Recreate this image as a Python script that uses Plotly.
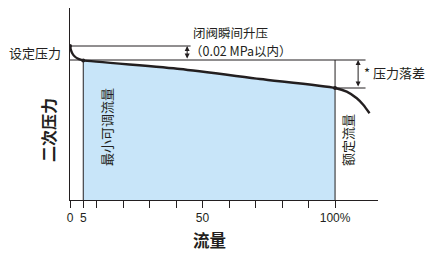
import plotly.graph_objects as go

# ---- data (flow %, secondary pressure in arbitrary units) ----
curve_flow = [0, 0.3, 0.9, 1.8, 2.9, 4.0, 5, 41.5, 71.7, 100, 104.4, 108.2, 110.7, 113]
curve_pres = [154, 150.5, 146.5, 143.5, 141.5, 140.3, 139.6, 131, 121, 112, 108.3, 101.7, 95, 86.7]
fill_flow = [5, 41.5, 71.7, 100]
fill_pres = [139.6, 131, 121, 112]
set_pressure = 154
ref_pressure = 140
min_flow = 5
rated_flow = 100
surge_x = 44.2
drop_x = 108.7
tick_vals = [0, 5, 10, 20, 30, 40, 50, 60, 70, 80, 90, 100]
tick_text = ["0", "5", "", "", "", "", "50", "", "", "", "", "100%"]
x_range = [0, 116.2]
y_range = [0, 192]

CJK = "Noto Sans CJK SC"
INK = "#231f20"

fig = go.Figure()

# light blue usable-flow area
fig.add_trace(go.Scatter(
    x=[fill_flow[0]] + fill_flow + [fill_flow[-1]],
    y=[0] + fill_pres + [0],
    fill="toself", fillcolor="#c8e5f9", mode="none",
    hoverinfo="skip", showlegend=False))

# pressure curve
fig.add_trace(go.Scatter(
    x=curve_flow, y=curve_pres, mode="lines",
    line=dict(color=INK, width=2.4, shape="spline", smoothing=0.6),
    showlegend=False, hoverinfo="skip"))

# small dots
fig.add_trace(go.Scatter(
    x=[curve_flow[0], min_flow, rated_flow],
    y=[set_pressure, fill_pres[0], fill_pres[-1]],
    mode="markers", marker=dict(color=INK, size=4),
    showlegend=False, hoverinfo="skip"))

line_style = dict(color=INK, width=1)
fig.add_shape(type="line", x0=0, x1=45.5, y0=set_pressure, y1=set_pressure, line=line_style)
fig.add_shape(type="line", x0=0, x1=111.5, y0=ref_pressure, y1=ref_pressure, line=line_style)
fig.add_shape(type="line", x0=rated_flow, x1=111.5, y0=fill_pres[-1], y1=fill_pres[-1], line=line_style)
fig.add_shape(type="line", x0=min_flow, x1=min_flow, y0=0, y1=fill_pres[0], line=line_style)
fig.add_shape(type="line", x0=rated_flow, x1=rated_flow, y0=0, y1=ref_pressure, line=line_style)

# double arrows
for xa, ylo, yhi in [(surge_x, ref_pressure, set_pressure), (drop_x, fill_pres[-1], ref_pressure)]:
    fig.add_annotation(x=xa, y=yhi, ax=xa, ay=ylo, xref="x", yref="y", axref="x", ayref="y",
                       text="", showarrow=True, arrowhead=2, arrowside="end+start",
                       arrowsize=1, arrowwidth=1, arrowcolor=INK, standoff=0, startstandoff=0)

txt = dict(family=CJK, size=12.5, color=INK)
fig.add_annotation(x=0, y=148, xref="x", yref="y", text="设定压力", showarrow=False,
                   xanchor="right", xshift=-7, font=dict(family=CJK, size=13, color=INK))
fig.add_annotation(x=46.0, y=168, xref="x", yref="y", text="闭阀瞬间升压", showarrow=False,
                   xanchor="left", borderpad=0, font=txt)
fig.add_annotation(x=45.0, y=150, xref="x", yref="y", text="（0.02 MPa以内）", showarrow=False,
                   xanchor="left", borderpad=0, font=txt)
fig.add_annotation(x=110.2, y=128, xref="x", yref="y", text="* 压力落差", showarrow=False,
                   xanchor="left", font=dict(family=CJK, size=13, color=INK))
fig.add_annotation(x=13.6, y=73, xref="x", yref="y", text="最小可调流量", showarrow=False,
                   textangle=-90, font=dict(family=CJK, size=13, color=INK))
fig.add_annotation(x=104.5, y=60, xref="x", yref="y", text="额定流量", showarrow=False,
                   textangle=-90, font=dict(family=CJK, size=13, color=INK))
fig.add_annotation(x=0, y=70, xref="paper", yref="y", text="<b>二次压力</b>", showarrow=False,
                   textangle=-90, xanchor="center", yanchor="middle", xshift=-22,
                   font=dict(family=CJK, size=16, color=INK))
fig.add_annotation(x=52.5, y=0, xref="x", yref="paper", text="<b>流量</b>", showarrow=False,
                   xanchor="center", yanchor="middle", yshift=-40, borderpad=0,
                   font=dict(family=CJK, size=16.5, color=INK))

fig.update_xaxes(range=x_range, showgrid=False, zeroline=False, showline=True,
                 linecolor=INK, linewidth=1, ticks="outside", ticklen=7, tickwidth=1,
                 tickcolor=INK, tickvals=tick_vals, ticktext=tick_text,
                 tickfont=dict(family="Liberation Sans", size=12, color=INK))
fig.update_yaxes(range=y_range, showgrid=False, zeroline=False, showline=True,
                 linecolor=INK, linewidth=1, showticklabels=False, ticks="")

fig.update_layout(width=432, height=253, margin=dict(l=70, r=54, t=8, b=53),
                  plot_bgcolor="white", paper_bgcolor="white", showlegend=False)

fig.write_html("out.html")
